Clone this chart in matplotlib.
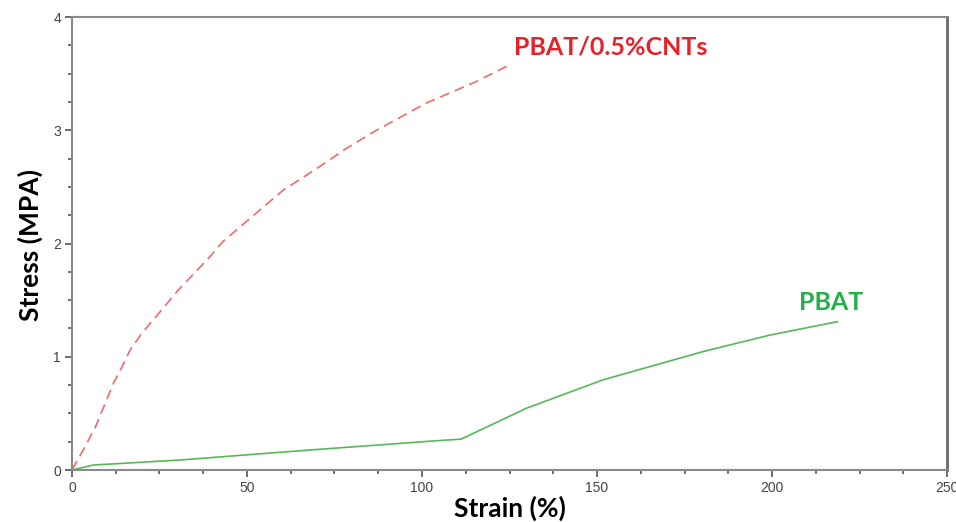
import matplotlib
matplotlib.use("Agg")
import matplotlib.pyplot as plt
from matplotlib.ticker import MultipleLocator

# Data
cnt_strain = [0, 3.8, 6.7, 9.5, 11.9, 14.3, 16.6, 20.0, 24.7, 30.4, 39.0, 43.2,
              50.8, 60.3, 69.8, 78.4, 87.0, 101.2, 115.5, 125.5]
cnt_stress = [0, 0.21, 0.38, 0.59, 0.77, 0.91, 1.06, 1.21, 1.38, 1.59, 1.87, 2.02,
              2.22, 2.47, 2.66, 2.84, 3.0, 3.24, 3.43, 3.585]

pbat_strain = [0, 6.1, 30.8, 65.1, 100.3, 111.2, 129.8, 151.6, 180.2, 199.2, 218.7]
pbat_stress = [0, 0.044, 0.088, 0.17, 0.25, 0.273, 0.545, 0.795, 1.045, 1.19, 1.31]

x_ticks = [0, 50, 100, 150, 200, 250]
y_ticks = [0, 1, 2, 3, 4]

fig = plt.figure(figsize=(9.56, 5.22), dpi=100)
ax = fig.add_axes([0.0753, 0.0996, 0.9153, 0.8678])

ax.plot(cnt_strain, cnt_stress, color="#f26a6a", lw=1.2, dashes=(6, 3.5))
ax.plot(pbat_strain, pbat_stress, color="#58b858", lw=1.2)

ax.set_xlim(0, 250)
ax.set_ylim(0, 4)
ax.set_xticks(x_ticks)
ax.set_yticks(y_ticks)
ax.xaxis.set_minor_locator(MultipleLocator(12.5))
ax.yaxis.set_minor_locator(MultipleLocator(0.25))

for s in ["left", "bottom", "top"]:
    ax.spines[s].set_color("#8a8a8a")
    ax.spines[s].set_linewidth(1.5)
ax.spines["right"].set_color("#6a6a6a")
ax.spines["right"].set_linewidth(2)

ax.tick_params(which="major", direction="out", length=5, width=1.2, color="#555555",
               labelsize=10, labelcolor="#444444", pad=3)
ax.tick_params(which="minor", direction="out", length=3, width=1.2, color="#555555")
for lab in ax.get_xticklabels() + ax.get_yticklabels():
    lab.set_family("Liberation Sans")

ax.set_xlabel("Strain (%)", fontsize=19, fontweight="bold", family="Lato")
ax.set_ylabel("Stress (MPA)", fontsize=19, fontweight="bold", family="Lato")
ax.xaxis.set_label_coords(0.5006, -0.084)
ax.xaxis.label.set_verticalalignment("center")
ax.yaxis.set_label_coords(-0.048, 0.497)
ax.yaxis.label.set_verticalalignment("center")

ax.text(154, 3.735, "PBAT/0.5%CNTs", color="#e8202a", fontsize=18, fontweight="bold",
        family="Lato", ha="center", va="center")
ax.text(216.9, 1.48, "PBAT", color="#22b04b", fontsize=18, fontweight="bold",
        family="Lato", ha="center", va="center")

fig.savefig("out.png", dpi=100)
